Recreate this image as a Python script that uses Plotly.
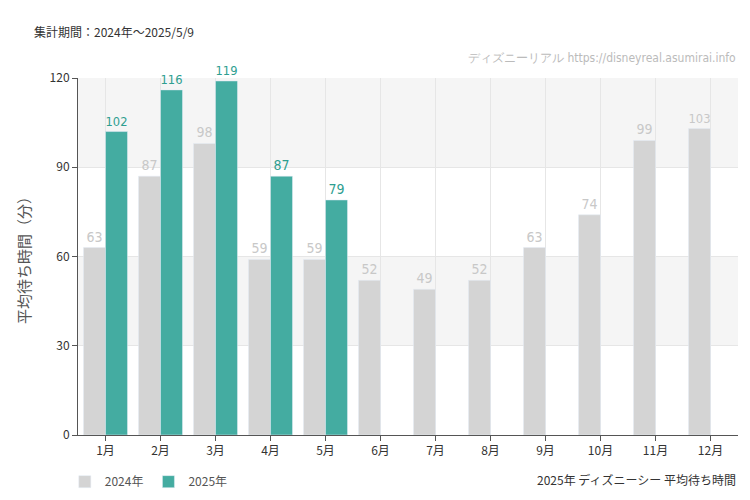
import plotly.graph_objects as go

months = ['1月', '2月', '3月', '4月', '5月', '6月', '7月', '8月', '9月', '10月', '11月', '12月']
wait_2024 = [63, 87, 98, 59, 59, 52, 49, 52, 63, 74, 99, 103]
wait_2025 = [102, 116, 119, 87, 79]

label_font = 'Liberation Sans Narrow, DejaVu Sans Condensed, sans-serif'

fig = go.Figure()
fig.add_trace(go.Bar(x=months, y=wait_2024, name='2024年', marker_color='#d4d4d4',
                     text=wait_2024, textposition='outside', cliponaxis=False,
                     textfont=dict(color='#c8c8c8', size=14, family=label_font)))
fig.add_trace(go.Bar(x=months[:len(wait_2025)], y=wait_2025, name='2025年', marker_color='#44aca1',
                     text=wait_2025, textposition='outside', cliponaxis=False,
                     textfont=dict(color='#2e9e90', size=14, family=label_font)))

# alternating background bands
for y0, y1 in [(30, 60), (90, 120)]:
    fig.add_shape(type='rect', xref='paper', yref='y', x0=0, x1=1, y0=y0, y1=y1,
                  fillcolor='#f5f5f5', line_width=0, layer='below')

fig.update_layout(
    width=750, height=500, barmode='group', bargap=0.2, bargroupgap=0,
    plot_bgcolor='white', paper_bgcolor='white',
    margin=dict(l=70, r=20, t=70, b=70),
    font=dict(family='Noto Sans CJK JP, sans-serif', size=12, color='#333'),
    legend=dict(orientation='h', x=-0.02, y=-0.09, xanchor='left', yanchor='top',
                font=dict(size=12, color='#555')),
    uniformtext=dict(mode=False),
)
fig.update_xaxes(showgrid=True, gridcolor='#e6e6e6', showline=True, linecolor='#555',
                 ticks='outside', tickcolor='#555', ticklen=5)
fig.update_yaxes(range=[0, 120], tickvals=[0, 30, 60, 90, 120], showgrid=True, gridcolor='#e6e6e6',
                 showline=True, linecolor='#555', ticks='outside', tickcolor='#555', ticklen=5,
                 zeroline=False, title=dict(text='平均待ち時間（分）', font=dict(size=15, color='#555')))

fig.add_annotation(text='集計期間：2024年～2025/5/9', xref='paper', yref='paper', x=-0.07, y=1.13,
                   xanchor='left', yanchor='middle', showarrow=False, font=dict(size=12, color='#333'))
fig.add_annotation(text='ディズニーリアル https://disneyreal.asumirai.info', xref='paper', yref='paper',
                   x=1.0, y=1.055, xanchor='right', yanchor='middle', showarrow=False,
                   font=dict(size=12, color='#bbb', family=label_font))
fig.add_annotation(text='2025年 ディズニーシー 平均待ち時間', xref='paper', yref='paper', x=1.0, y=-0.125,
                   xanchor='right', yanchor='middle', showarrow=False, font=dict(size=12, color='#333'))

fig.write_html('out.html')
